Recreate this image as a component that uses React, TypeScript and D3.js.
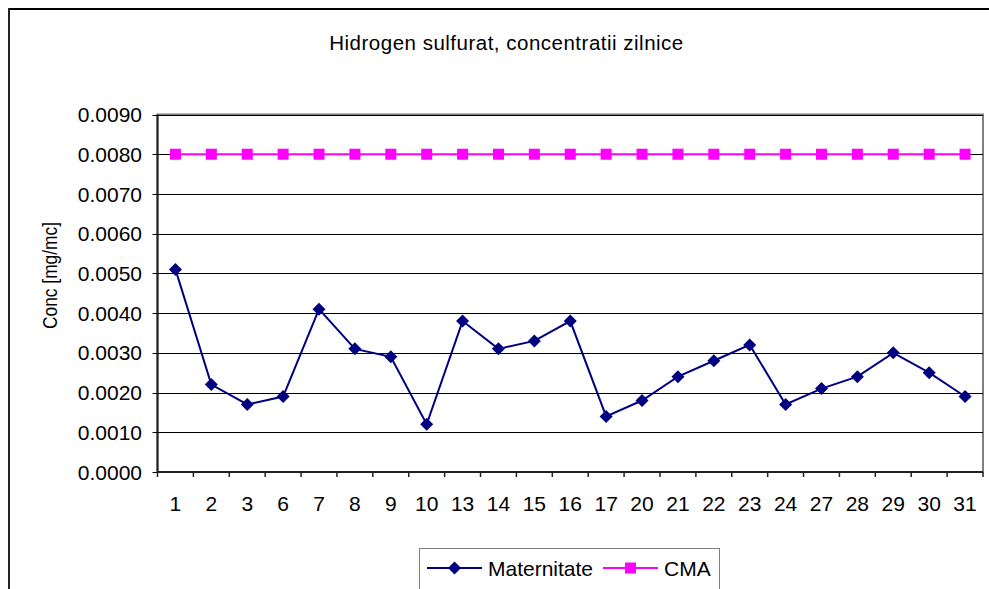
import React from "react";
import * as d3 from "d3";

const categories = ["1","2","3","6","7","8","9","10","13","14","15","16","17","20","21","22","23","24","27","28","29","30","31"];
const maternitate = [0.0051,0.0022,0.0017,0.0019,0.0041,0.0031,0.0029,0.0012,0.0038,0.0031,0.0033,0.0038,0.0014,0.0018,0.0024,0.0028,0.0032,0.0017,0.0021,0.0024,0.0030,0.0025,0.0019];
const cma = categories.map(() => 0.008);
const yTicks = [0,0.001,0.002,0.003,0.004,0.005,0.006,0.007,0.008,0.009];
const title = "Hidrogen sulfurat, concentratii zilnice";
const yLabel = "Conc [mg/mc]";
const seriesNames = ["Maternitate", "CMA"];

const W = 989, H = 589;
const L = 157.5, R = 983, T = 114.5, B = 472;
const FONT = "Arial, 'Liberation Sans', sans-serif";

export default function App() {
  const x = d3.scaleBand<string>().domain(categories).range([L, R]);
  const y = d3.scaleLinear().domain([0, 0.009]).range([B, T]);
  const cx = (c: string) => (x(c) as number) + x.bandwidth() / 2;
  const line = d3.line<number>().x((_, i) => cx(categories[i])).y((d) => y(d));
  const fmt = d3.format(".4f");
  const diamond = (px: number, py: number, r: number) => `M${px},${py - r}L${px + r},${py}L${px},${py + r}L${px - r},${py}Z`;

  return (
    <svg width={W} height={H} style={{ position: "fixed", left: 0, top: 0, display: "block", background: "#fff" }} fontFamily={FONT}>
      {/* outer chart border */}
      <line x1={8} y1={9} x2={W + 5} y2={9} stroke="#000" strokeWidth={2} />
      <line x1={9} y1={8} x2={9} y2={H + 5} stroke="#222" strokeWidth={2} />
      <text x={506.5} y={50} textAnchor="middle" fontSize={20.5} letterSpacing={0.5} fill="#000">{title}</text>
      {/* plot border */}
      <rect x={L} y={T} width={R - L} height={B - T} fill="#fff" stroke="#808080" strokeWidth={2} />
      {/* gridlines */}
      {yTicks.slice(1).map((t) => (
        <line key={t} x1={L} x2={R} y1={Math.round(y(t)) + 0.5} y2={Math.round(y(t)) + 0.5} stroke="#000" strokeWidth={1.2} />
      ))}
      {/* y axis */}
      <line x1={L} x2={L} y1={T} y2={B} stroke="#222" strokeWidth={2} />
      {yTicks.map((t) => (
        <g key={"yt" + t}>
          <line x1={L - 5} x2={L} y1={Math.round(y(t)) + 0.5} y2={Math.round(y(t)) + 0.5} stroke="#000" strokeWidth={1} />
          <text x={142} y={y(t)} dy="0.36em" textAnchor="end" fontSize={21} fill="#000">{fmt(t)}</text>
        </g>
      ))}
      {/* x axis */}
      <line x1={L} x2={R} y1={B} y2={B} stroke="#222" strokeWidth={2} />
      {categories.map((c) => (
        <line key={"xt" + c} x1={x(c) as number} x2={x(c) as number} y1={B} y2={B + 5} stroke="#222" strokeWidth={1.5} />
      ))}
      <line x1={R} x2={R} y1={B} y2={B + 5} stroke="#222" strokeWidth={1.5} />
      {categories.map((c) => (
        <text key={"xl" + c} x={cx(c)} y={511} textAnchor="middle" fontSize={21} fill="#000">{c}</text>
      ))}
      <text transform={`translate(57,275.5) rotate(-90)`} textAnchor="middle" fontSize={21} textLength={107} lengthAdjust="spacingAndGlyphs" fill="#000">{yLabel}</text>
      {/* CMA series */}
      <path d={line(cma) as string} fill="none" stroke="#FF00FF" strokeWidth={2} />
      {cma.map((v, i) => (
        <rect key={"c" + i} x={cx(categories[i]) - 5.5} y={y(v) - 5.5} width={11} height={11} fill="#FF00FF" />
      ))}
      {/* Maternitate series */}
      <path d={line(maternitate) as string} fill="none" stroke="#000080" strokeWidth={2} />
      {maternitate.map((v, i) => (
        <path key={"m" + i} d={diamond(cx(categories[i]), y(v), 6.5)} fill="#000080" />
      ))}
      {/* legend */}
      <rect x={419.5} y={548.5} width={300} height={60} fill="#fff" stroke="#808080" strokeWidth={1} />
      <line x1={427} x2={482} y1={568} y2={568} stroke="#000080" strokeWidth={2} />
      <path d={diamond(454.5, 568, 6.5)} fill="#000080" />
      <text x={488} y={576} fontSize={21} fill="#000">{seriesNames[0]}</text>
      <line x1={603} x2={658} y1={568} y2={568} stroke="#FF00FF" strokeWidth={2} />
      <rect x={625} y={562.5} width={11} height={11} fill="#FF00FF" />
      <text x={664} y={576} fontSize={21} fill="#000">{seriesNames[1]}</text>
    </svg>
  );
}
